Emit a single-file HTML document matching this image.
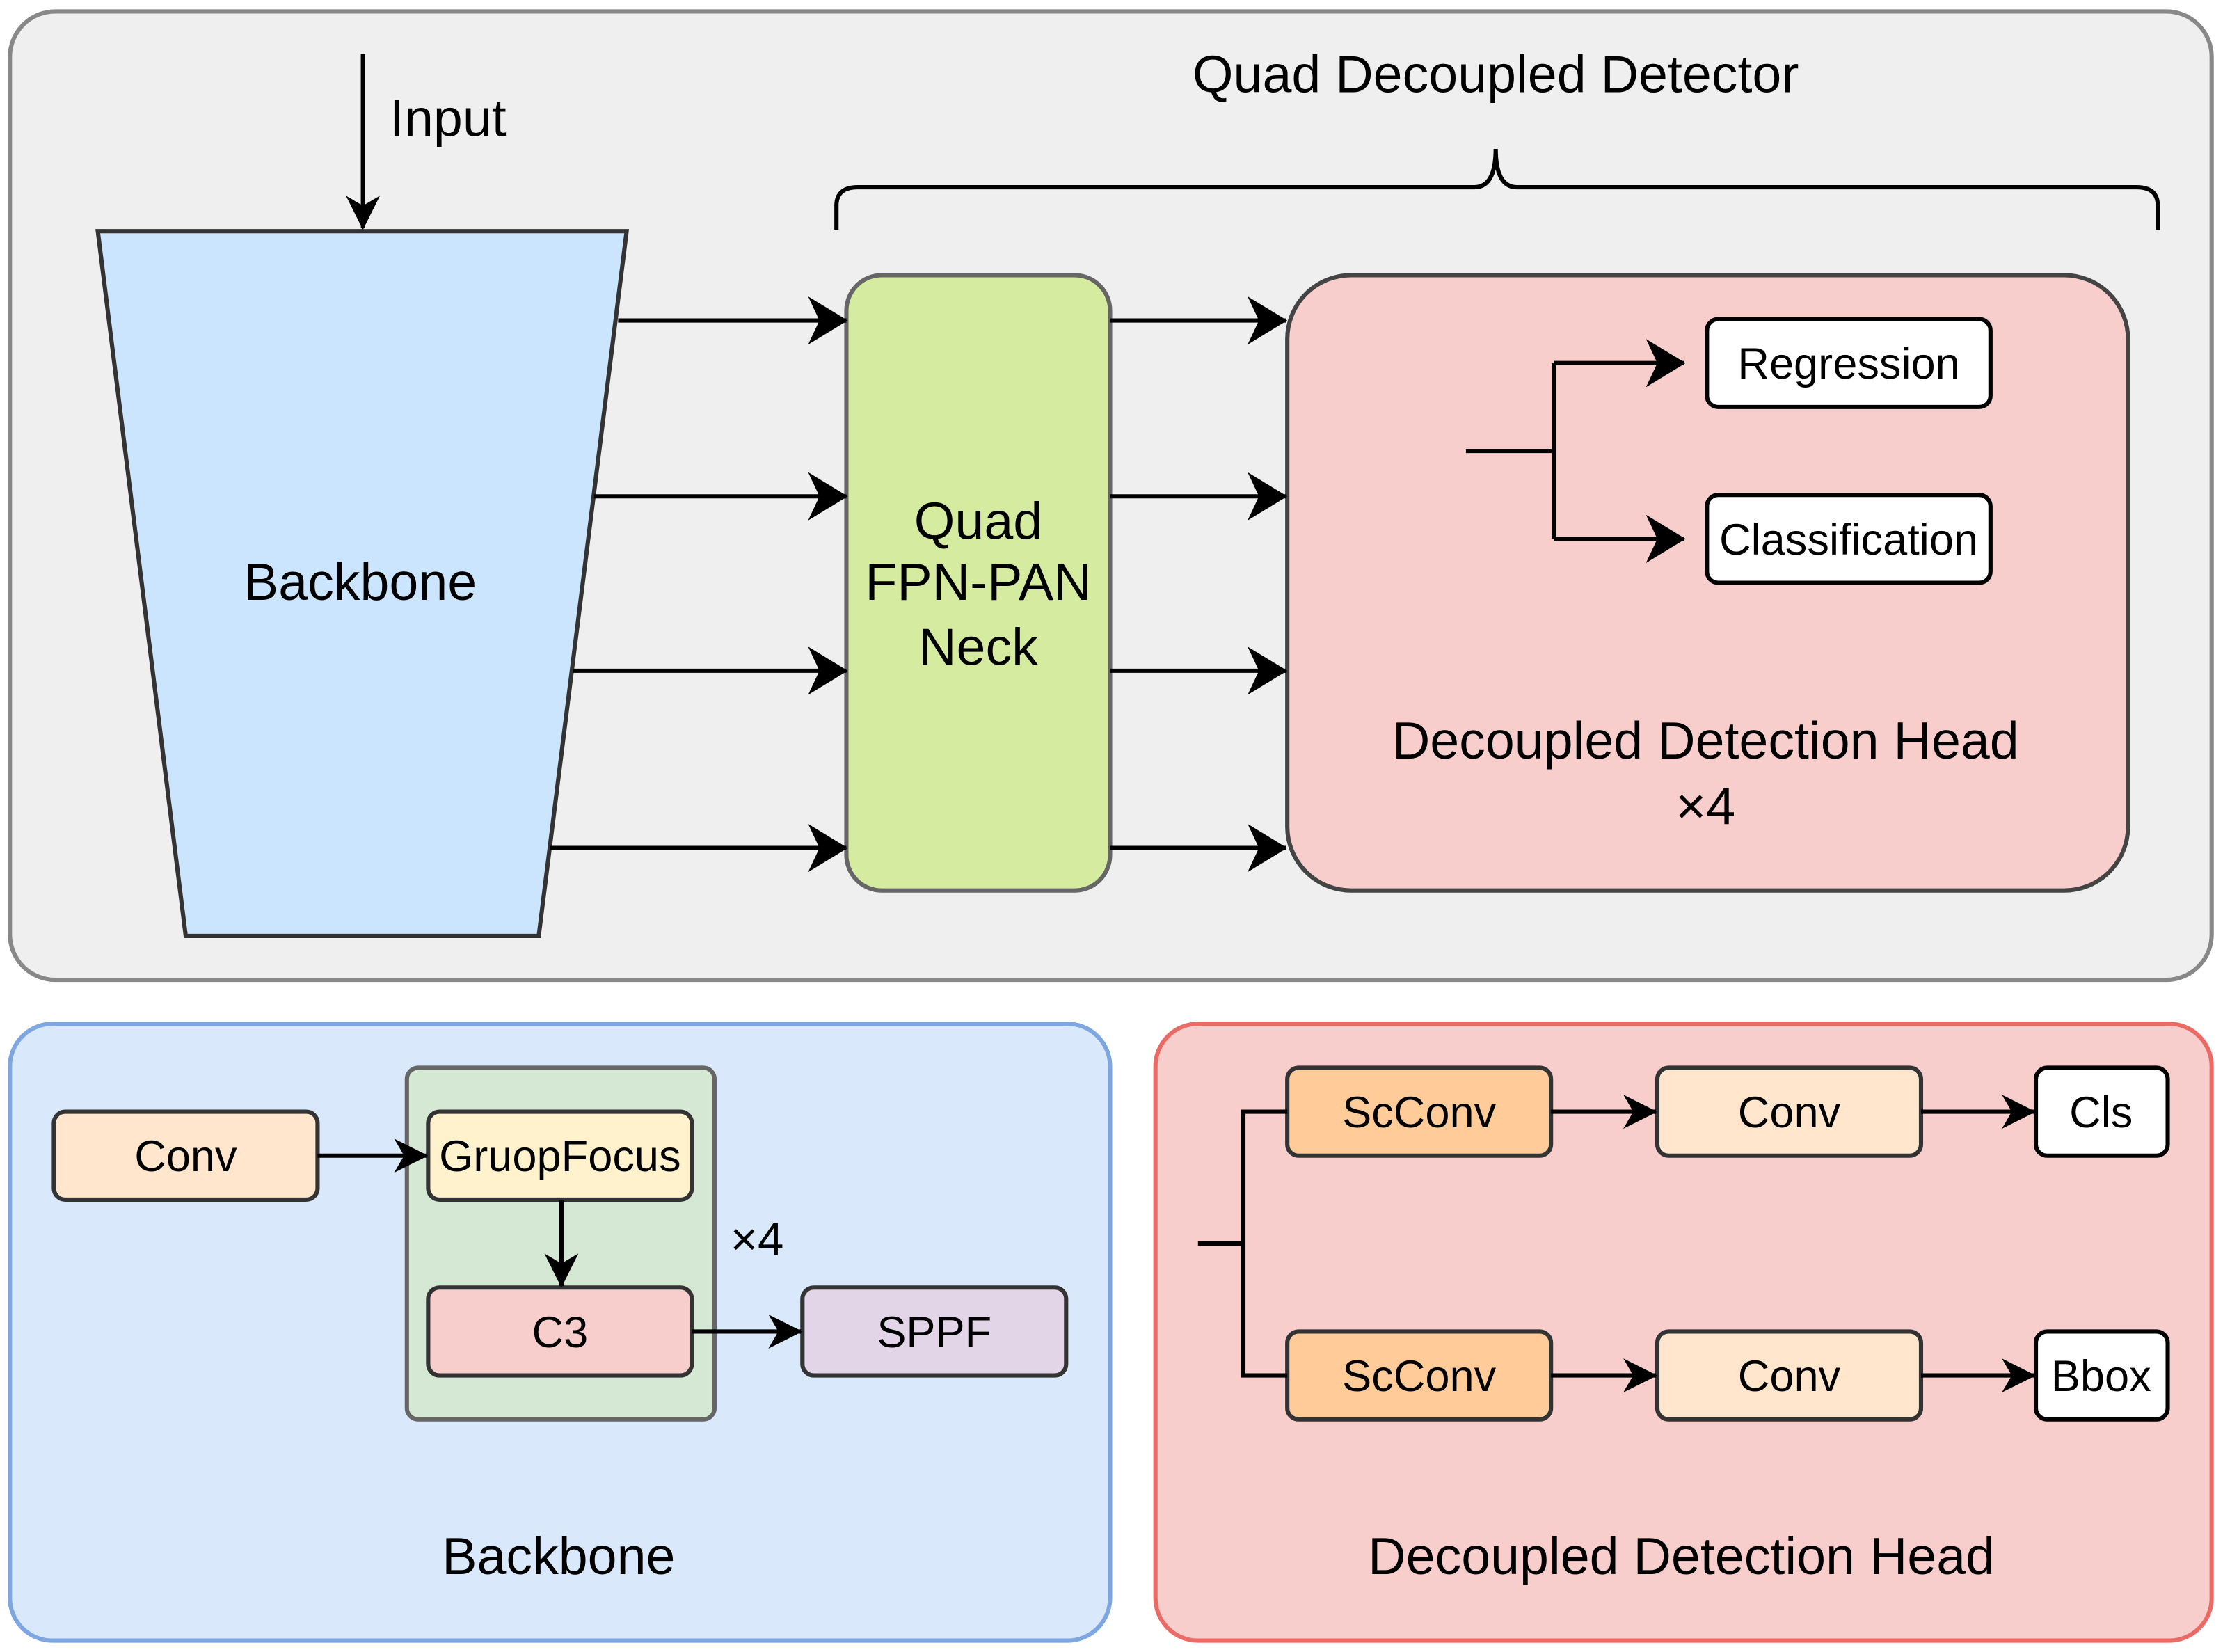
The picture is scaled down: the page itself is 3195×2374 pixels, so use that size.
<!DOCTYPE html>
<html><head><meta charset="utf-8"><style>
html,body{margin:0;padding:0;background:#fff;}
svg{display:block;}
text{font-family:"Liberation Sans",Arial,sans-serif;fill:#000;}
</style></head><body>
<svg width="3195" height="2374" viewBox="0 0 1568 1165" xmlns="http://www.w3.org/2000/svg">
<defs>
<marker id="a" viewBox="0 0 28 34" refX="27" refY="17" markerWidth="28" markerHeight="34" markerUnits="userSpaceOnUse" orient="auto">
<path d="M0,0 L28,17 L0,34 L8,17 Z" fill="#000"/>
</marker>
<marker id="s" viewBox="0 0 24 24" refX="23" refY="12" markerWidth="24" markerHeight="24" markerUnits="userSpaceOnUse" orient="auto">
<path d="M0,0 L24,12 L0,24 L7,12 Z" fill="#000"/>
</marker>
</defs>
<g stroke-width="3">
<rect x="7" y="8" width="1553" height="683" rx="32" fill="#efefef" stroke="#888"/>
<line x1="256" y1="38" x2="256" y2="161" stroke="#000" marker-end="url(#s)"/>
<polygon points="69,163 442,163 380,660 131,660" fill="#cce5ff" stroke="#333"/>
<path d="M590,162 V145 Q590,132 605,132 H1040 Q1055,132 1055,105 Q1055,132 1070,132 H1507 Q1522,132 1522,145 V162" fill="none" stroke="#000"/>
<rect x="597" y="194" width="186" height="434" rx="25" fill="#d5eba0" stroke="#666"/>
<rect x="908" y="194" width="593" height="434" rx="45" fill="#f8cecc" stroke="#444"/>
<g stroke="#000" fill="none">
<line x1="436" y1="226" x2="597" y2="226" marker-end="url(#a)"/>
<line x1="419" y1="350" x2="597" y2="350" marker-end="url(#a)"/>
<line x1="404" y1="473" x2="597" y2="473" marker-end="url(#a)"/>
<line x1="388" y1="598" x2="597" y2="598" marker-end="url(#a)"/>
<line x1="783" y1="226" x2="907" y2="226" marker-end="url(#a)"/>
<line x1="783" y1="350" x2="907" y2="350" marker-end="url(#a)"/>
<line x1="783" y1="473" x2="907" y2="473" marker-end="url(#a)"/>
<line x1="783" y1="598" x2="907" y2="598" marker-end="url(#a)"/>
<path d="M1034,318 H1096"/>
<line x1="1096" y1="256" x2="1188" y2="256" marker-end="url(#a)"/>
<line x1="1096" y1="380" x2="1188" y2="380" marker-end="url(#a)"/>
<line x1="1096" y1="256" x2="1096" y2="380"/>
</g>
<rect x="1204" y="225" width="200" height="62" rx="8" fill="#fff" stroke="#000"/>
<rect x="1204" y="349" width="200" height="62" rx="8" fill="#fff" stroke="#000"/>

<rect x="7" y="722" width="776" height="435" rx="30" fill="#dae8fc" stroke="#7ea6e0"/>
<rect x="287" y="753" width="217" height="248" rx="8" fill="#d5e8d4" stroke="#666"/>
<rect x="38" y="784" width="186" height="62" rx="8" fill="#ffe6cc" stroke="#333"/>
<rect x="302" y="784" width="186" height="62" rx="8" fill="#fff2cc" stroke="#333"/>
<rect x="302" y="908" width="186" height="62" rx="8" fill="#f8cecc" stroke="#333"/>
<rect x="566" y="908" width="186" height="62" rx="8" fill="#e1d5e7" stroke="#333"/>
<g stroke="#000">
<line x1="224" y1="815" x2="301" y2="815" marker-end="url(#s)"/>
<line x1="396" y1="846" x2="396" y2="907" marker-end="url(#s)"/>
<line x1="488" y1="939" x2="565" y2="939" marker-end="url(#s)"/>
</g>

<rect x="815" y="722" width="745" height="435" rx="30" fill="#f8cecc" stroke="#ea6b66"/>
<rect x="908" y="753" width="186" height="62" rx="8" fill="#ffcc99" stroke="#333"/>
<rect x="1169" y="753" width="186" height="62" rx="8" fill="#ffe6cc" stroke="#333"/>
<rect x="1436" y="753" width="93" height="62" rx="8" fill="#fff" stroke="#000"/>
<rect x="908" y="939" width="186" height="62" rx="8" fill="#ffcc99" stroke="#333"/>
<rect x="1169" y="939" width="186" height="62" rx="8" fill="#ffe6cc" stroke="#333"/>
<rect x="1436" y="939" width="93" height="62" rx="8" fill="#fff" stroke="#000"/>
<g stroke="#000" fill="none">
<path d="M845,877 H877 M908,784 H877 V970 H908"/>
<line x1="1094" y1="784" x2="1168" y2="784" marker-end="url(#s)"/>
<line x1="1355" y1="784" x2="1435" y2="784" marker-end="url(#s)"/>
<line x1="1094" y1="970" x2="1168" y2="970" marker-end="url(#s)"/>
<line x1="1355" y1="970" x2="1435" y2="970" marker-end="url(#s)"/>
</g>
</g>

<g text-anchor="middle">
<text x="316" y="96" font-size="37">Input</text>
<text x="254" y="423" font-size="37">Backbone</text>
<text x="1055" y="65" font-size="37">Quad Decoupled Detector</text>
<text x="690" y="380" font-size="37">Quad</text>
<text x="690" y="423" font-size="37">FPN-PAN</text>
<text x="690" y="469" font-size="37">Neck</text>
<text x="1304" y="267" font-size="31">Regression</text>
<text x="1304" y="391" font-size="31">Classification</text>
<text x="1203" y="535" font-size="37">Decoupled Detection Head</text>
<text x="1203" y="581" font-size="37">×4</text>

<text x="131" y="826" font-size="31">Conv</text>
<text x="395" y="826" font-size="31">GruopFocus</text>
<text x="395" y="950" font-size="31">C3</text>
<text x="659" y="950" font-size="31">SPPF</text>
<text x="534" y="885" font-size="33">×4</text>
<text x="394" y="1110" font-size="37">Backbone</text>

<text x="1001" y="795" font-size="31">ScConv</text>
<text x="1262" y="795" font-size="31">Conv</text>
<text x="1482" y="795" font-size="31">Cls</text>
<text x="1001" y="981" font-size="31">ScConv</text>
<text x="1262" y="981" font-size="31">Conv</text>
<text x="1482" y="981" font-size="31">Bbox</text>
<text x="1186" y="1110" font-size="37">Decoupled Detection Head</text>
</g>
</svg>
</body></html>
